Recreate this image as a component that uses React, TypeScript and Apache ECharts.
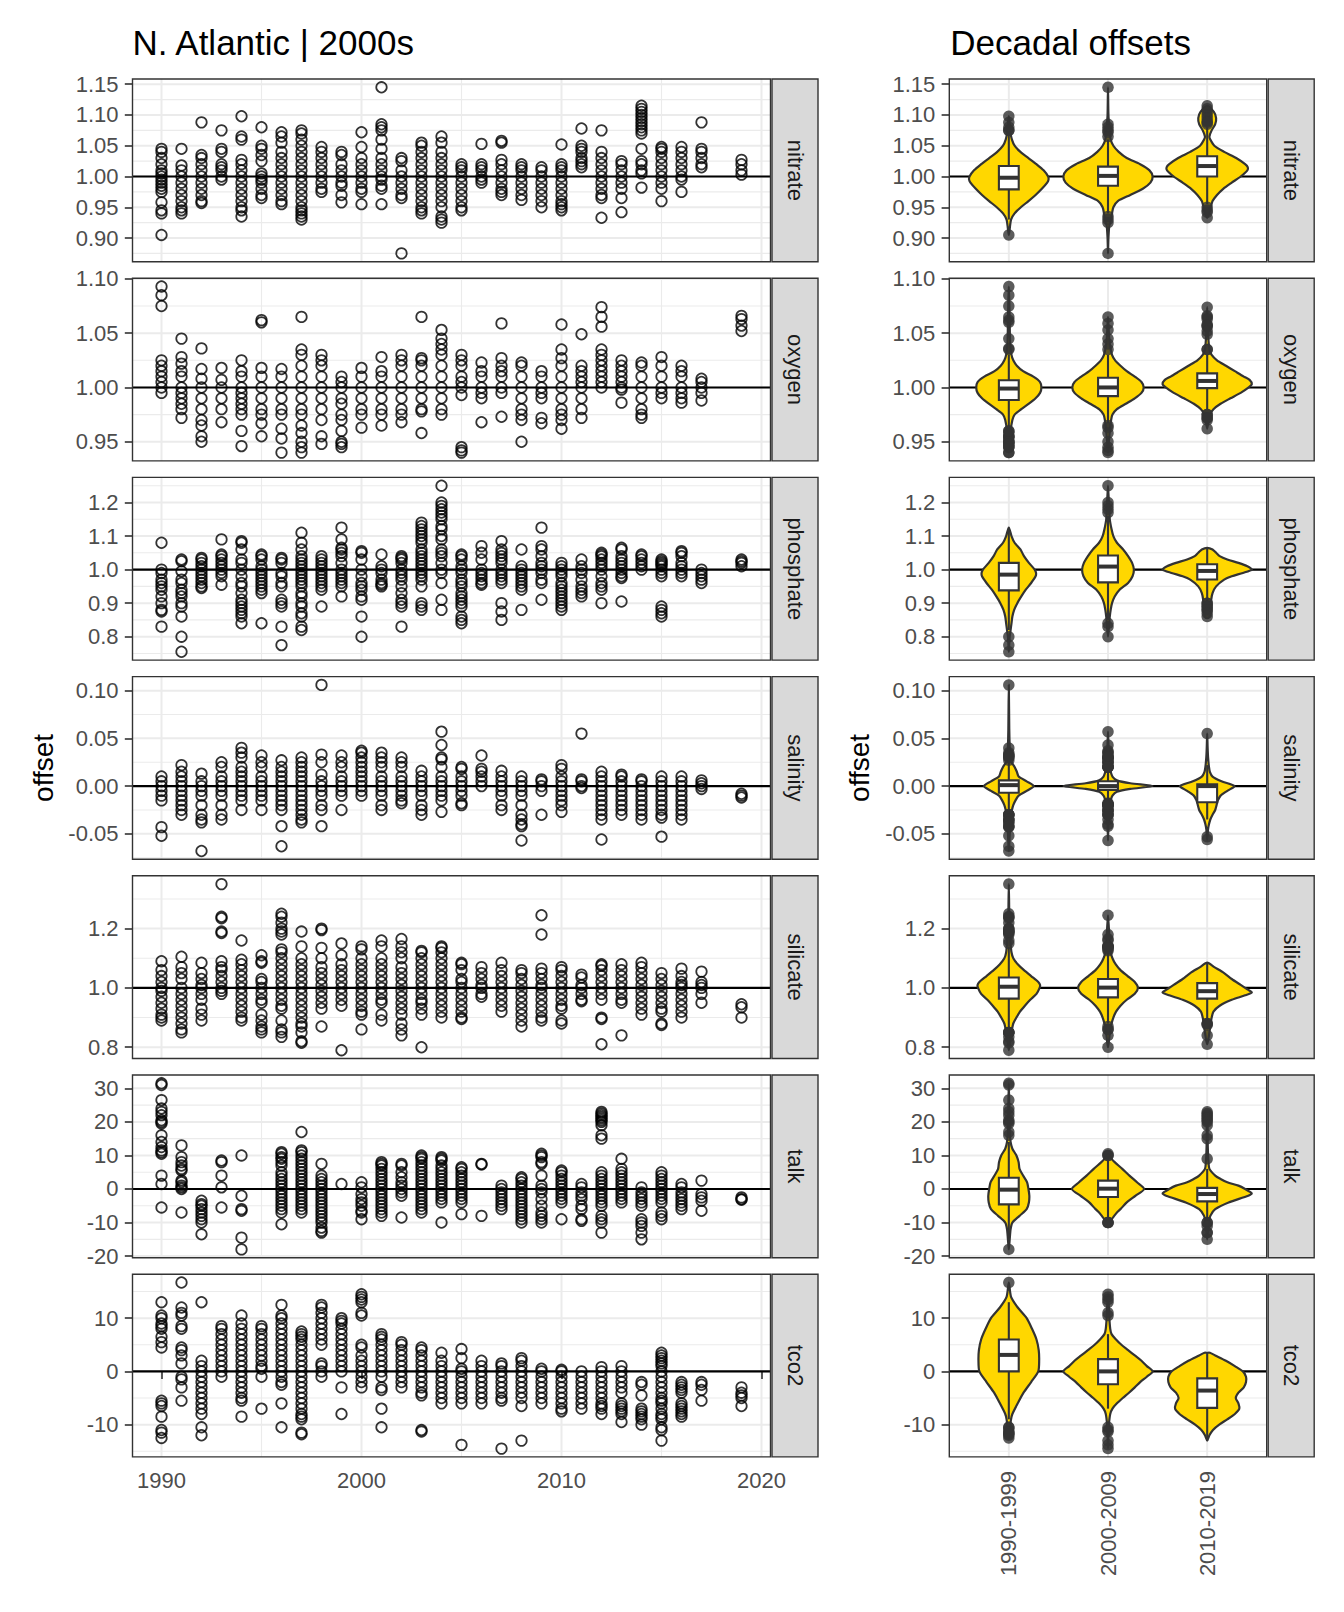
import React, { useEffect, useRef } from "react";
import * as echarts from "echarts";

// ---------------- DATA ----------------
const panelNames = ["nitrate", "oxygen", "phosphate", "salinity", "silicate", "talk", "tco2"];
const decadeLabels = ["1990-1999", "2000-2009", "2010-2019"];
const yearTicks = [1990, 2000, 2010, 2020];
const yearMinor = [1995, 2005, 2015];

const nitrateTicks = [0.9, 0.95, 1.0, 1.05, 1.1, 1.15];
const oxygenTicks = [0.95, 1.0, 1.05, 1.1];
const phosphateTicks = [0.8, 0.9, 1.0, 1.1, 1.2];
const salinityTicks = [-0.05, 0.0, 0.05, 0.1];
const silicateTicks = [0.8, 1.0, 1.2];
const talkTicks = [-20, -10, 0, 10, 20, 30];
const tco2Ticks = [-10, 0, 10];
const tickDecimals = [2, 2, 1, 2, 1, 0, 0];
const refValues = [1, 1, 1, 0, 1, 0, 0];

const nitratePoints = [
  [1990, [1.045, 1.04, 1.03, 1.02, 1.01, 1.005, 1.0, 0.995, 0.99, 0.985, 0.98, 0.975, 0.958, 0.945, 0.94, 0.905]],
  [1991, [1.045, 1.018, 1.01, 1.0, 0.99, 0.98, 0.97, 0.96, 0.95, 0.945, 0.94]],
  [1992, [1.088, 1.035, 1.03, 1.02, 1.01, 1.0, 0.99, 0.98, 0.97, 0.96, 0.957]],
  [1993, [1.075, 1.045, 1.04, 1.02, 1.015, 1.01, 1.0, 0.995]],
  [1994, [1.098, 1.065, 1.06, 1.027, 1.02, 1.01, 1.0, 0.99, 0.98, 0.97, 0.96, 0.95, 0.945, 0.935]],
  [1995, [1.08, 1.05, 1.045, 1.035, 1.025, 1.005, 1.0, 0.995, 0.99, 0.98, 0.97, 0.965]],
  [1996, [1.072, 1.065, 1.055, 1.04, 1.03, 1.02, 1.01, 1.0, 0.99, 0.98, 0.97, 0.96, 0.955]],
  [1997, [1.075, 1.07, 1.06, 1.05, 1.04, 1.03, 1.02, 1.01, 1.0, 0.99, 0.98, 0.97, 0.96, 0.95, 0.945, 0.94, 0.935, 0.93]],
  [1998, [1.048, 1.04, 1.03, 1.02, 1.01, 1.0, 0.99, 0.98, 0.975]],
  [1999, [1.04, 1.035, 1.02, 1.01, 1.0, 0.99, 0.985, 0.97, 0.958]],
  [2000, [1.072, 1.048, 1.03, 1.02, 1.01, 1.0, 0.99, 0.98, 0.975, 0.955]],
  [2001, [1.145, 1.085, 1.08, 1.075, 1.06, 1.045, 1.03, 1.02, 1.01, 1.0, 0.995, 0.985, 0.98, 0.955]],
  [2002, [1.03, 1.025, 1.01, 1.0, 0.99, 0.98, 0.97, 0.965, 0.875]],
  [2003, [1.055, 1.05, 1.04, 1.03, 1.02, 1.01, 1.0, 0.99, 0.98, 0.97, 0.96, 0.95, 0.945, 0.94]],
  [2004, [1.065, 1.055, 1.04, 1.03, 1.02, 1.01, 1.0, 0.99, 0.98, 0.97, 0.96, 0.95, 0.935, 0.93, 0.925]],
  [2005, [1.02, 1.015, 1.01, 1.0, 0.99, 0.98, 0.97, 0.96, 0.95, 0.945]],
  [2006, [1.053, 1.02, 1.015, 1.01, 1.0, 0.995, 0.99]],
  [2007, [1.058, 1.055, 1.027, 1.02, 1.01, 1.0, 0.99, 0.98, 0.975, 0.97]],
  [2008, [1.02, 1.015, 1.01, 1.0, 0.99, 0.98, 0.97, 0.962]],
  [2009, [1.015, 1.01, 1.0, 0.99, 0.98, 0.97, 0.96, 0.95]],
  [2010, [1.052, 1.02, 1.015, 1.01, 1.0, 0.99, 0.98, 0.97, 0.96, 0.955, 0.95, 0.945]],
  [2011, [1.078, 1.05, 1.045, 1.04, 1.03, 1.025, 1.02, 1.015]],
  [2012, [1.075, 1.04, 1.03, 1.02, 1.01, 1.0, 0.99, 0.98, 0.97, 0.965, 0.933]],
  [2013, [1.025, 1.02, 1.01, 1.0, 0.99, 0.98, 0.965, 0.942]],
  [2014, [1.115, 1.11, 1.105, 1.1, 1.095, 1.09, 1.085, 1.08, 1.075, 1.07, 1.045, 1.025, 1.02, 1.01, 1.005, 0.982]],
  [2015, [1.048, 1.045, 1.04, 1.03, 1.02, 1.01, 1.0, 0.99, 0.98, 0.96]],
  [2016, [1.048, 1.04, 1.03, 1.02, 1.01, 1.0, 0.995, 0.975]],
  [2017, [1.088, 1.045, 1.04, 1.03, 1.02, 1.015]],
  [2019, [1.027, 1.02, 1.01, 1.003]],
];

const oxygenPoints = [
  [1990, [1.093, 1.085, 1.075, 1.025, 1.02, 1.015, 1.01, 1.005, 1.0, 0.995]],
  [1991, [1.045, 1.028, 1.022, 1.015, 1.01, 1.0, 0.995, 0.99, 0.985, 0.98, 0.972]],
  [1992, [1.036, 1.017, 1.008, 1.0, 0.99, 0.98, 0.97, 0.965, 0.955, 0.95]],
  [1993, [1.018, 1.007, 1.0, 0.99, 0.98, 0.968]],
  [1994, [1.025, 1.015, 1.01, 1.0, 0.995, 0.99, 0.985, 0.98, 0.975, 0.96, 0.946]],
  [1995, [1.062, 1.06, 1.018, 1.01, 1.0, 0.99, 0.98, 0.975, 0.967, 0.955]],
  [1996, [1.017, 1.01, 1.0, 0.99, 0.98, 0.975, 0.962, 0.953, 0.94]],
  [1997, [1.065, 1.035, 1.03, 1.02, 1.01, 1.0, 0.99, 0.98, 0.975, 0.965, 0.958, 0.95, 0.945, 0.94]],
  [1998, [1.03, 1.025, 1.02, 1.01, 1.0, 0.99, 0.98, 0.97, 0.955, 0.948]],
  [1999, [1.01, 1.005, 1.0, 0.99, 0.985, 0.975, 0.97, 0.96, 0.95, 0.948, 0.945]],
  [2000, [1.018, 1.01, 1.0, 0.99, 0.98, 0.975, 0.963]],
  [2001, [1.028, 1.015, 1.01, 1.0, 0.99, 0.98, 0.975, 0.965]],
  [2002, [1.03, 1.025, 1.02, 1.01, 1.0, 0.99, 0.98, 0.975, 0.968]],
  [2003, [1.065, 1.027, 1.025, 1.02, 1.01, 1.0, 0.99, 0.98, 0.978, 0.958]],
  [2004, [1.053, 1.045, 1.04, 1.035, 1.03, 1.02, 1.01, 1.0, 0.99, 0.98, 0.975]],
  [2005, [1.03, 1.025, 1.02, 1.01, 1.005, 1.0, 0.993, 0.945, 0.942, 0.94]],
  [2006, [1.023, 1.015, 1.01, 1.0, 0.995, 0.99, 0.968]],
  [2007, [1.059, 1.027, 1.02, 1.015, 1.01, 1.0, 0.995, 0.973]],
  [2008, [1.023, 1.02, 1.01, 1.0, 0.99, 0.98, 0.975, 0.97, 0.95]],
  [2009, [1.015, 1.01, 1.0, 0.995, 0.99, 0.972, 0.967]],
  [2010, [1.058, 1.035, 1.027, 1.02, 1.01, 1.0, 0.99, 0.98, 0.975, 0.97, 0.962]],
  [2011, [1.049, 1.02, 1.015, 1.01, 1.005, 1.0, 0.99, 0.98, 0.972]],
  [2012, [1.074, 1.065, 1.056, 1.035, 1.03, 1.025, 1.02, 1.015, 1.01, 1.005, 1.0]],
  [2013, [1.025, 1.02, 1.015, 1.01, 1.005, 1.0, 0.998, 0.986]],
  [2014, [1.023, 1.02, 1.01, 1.0, 0.99, 0.98, 0.975, 0.972]],
  [2015, [1.028, 1.02, 1.01, 1.0, 0.995, 0.99]],
  [2016, [1.02, 1.015, 1.01, 1.0, 0.995, 0.99, 0.986]],
  [2017, [1.008, 1.005, 1.0, 0.995, 0.988]],
  [2019, [1.066, 1.063, 1.057, 1.052]],
];

const phosphatePoints = [
  [1990, [1.08, 1.0, 0.99, 0.97, 0.96, 0.95, 0.94, 0.92, 0.9, 0.88, 0.875, 0.83]],
  [1991, [1.03, 1.025, 0.995, 0.97, 0.96, 0.94, 0.93, 0.92, 0.9, 0.89, 0.86, 0.8, 0.755]],
  [1992, [1.035, 1.03, 1.02, 1.01, 1.0, 0.99, 0.98, 0.97, 0.96, 0.95, 0.945]],
  [1993, [1.09, 1.045, 1.04, 1.03, 1.02, 1.01, 1.0, 0.99, 0.98, 0.955]],
  [1994, [1.085, 1.08, 1.06, 1.03, 1.02, 1.0, 0.98, 0.96, 0.95, 0.93, 0.91, 0.9, 0.89, 0.88, 0.87, 0.86, 0.84]],
  [1995, [1.045, 1.04, 1.03, 1.01, 1.0, 0.99, 0.98, 0.97, 0.96, 0.95, 0.94, 0.93, 0.84]],
  [1996, [1.035, 1.03, 1.02, 0.99, 0.98, 0.96, 0.95, 0.91, 0.9, 0.89, 0.83, 0.775]],
  [1997, [1.11, 1.08, 1.06, 1.04, 1.03, 1.02, 1.01, 1.0, 0.99, 0.98, 0.97, 0.96, 0.95, 0.93, 0.92, 0.9, 0.89, 0.87, 0.86, 0.83, 0.82]],
  [1998, [1.04, 1.03, 1.02, 1.01, 1.0, 0.99, 0.98, 0.97, 0.96, 0.95, 0.94, 0.89]],
  [1999, [1.125, 1.09, 1.065, 1.06, 1.05, 1.04, 1.02, 1.0, 0.99, 0.98, 0.97, 0.96, 0.95, 0.92]],
  [2000, [1.055, 1.05, 1.03, 1.0, 0.98, 0.96, 0.95, 0.94, 0.92, 0.91, 0.86, 0.8]],
  [2001, [1.045, 1.01, 1.0, 0.99, 0.97, 0.96, 0.955, 0.95]],
  [2002, [1.04, 1.035, 1.03, 1.02, 1.0, 0.99, 0.98, 0.97, 0.95, 0.93, 0.91, 0.9, 0.89, 0.83]],
  [2003, [1.14, 1.13, 1.12, 1.11, 1.1, 1.09, 1.08, 1.06, 1.05, 1.04, 1.03, 1.02, 1.01, 1.0, 0.99, 0.98, 0.97, 0.95, 0.9, 0.89, 0.88]],
  [2004, [1.25, 1.2, 1.19, 1.18, 1.17, 1.16, 1.15, 1.13, 1.12, 1.1, 1.09, 1.06, 1.05, 1.04, 1.02, 1.0, 0.99, 0.96, 0.91, 0.88]],
  [2005, [1.045, 1.04, 1.03, 1.01, 1.0, 0.99, 0.97, 0.96, 0.95, 0.93, 0.92, 0.91, 0.9, 0.89, 0.86, 0.85, 0.84]],
  [2006, [1.07, 1.05, 1.03, 1.0, 0.99, 0.98, 0.97, 0.96, 0.955]],
  [2007, [1.085, 1.06, 1.05, 1.04, 1.03, 1.02, 1.0, 0.99, 0.98, 0.97, 0.96, 0.9, 0.875, 0.85]],
  [2008, [1.06, 1.01, 1.0, 0.99, 0.98, 0.97, 0.96, 0.95, 0.94, 0.88]],
  [2009, [1.125, 1.07, 1.06, 1.04, 1.02, 1.01, 1.0, 0.99, 0.97, 0.96, 0.91]],
  [2010, [1.02, 1.01, 1.0, 0.99, 0.98, 0.96, 0.95, 0.94, 0.93, 0.92, 0.91, 0.9, 0.89, 0.88]],
  [2011, [1.03, 1.01, 1.0, 0.99, 0.97, 0.95, 0.94, 0.93, 0.92]],
  [2012, [1.05, 1.045, 1.04, 1.03, 1.02, 1.01, 1.0, 0.98, 0.96, 0.95, 0.94, 0.9]],
  [2013, [1.065, 1.06, 1.04, 1.03, 1.02, 1.01, 1.0, 0.99, 0.98, 0.975, 0.905]],
  [2014, [1.045, 1.04, 1.03, 1.02, 1.01, 1.0]],
  [2015, [1.03, 1.025, 1.02, 1.015, 1.01, 1.0, 0.99, 0.98, 0.89, 0.88, 0.87, 0.86]],
  [2016, [1.055, 1.05, 1.04, 1.02, 1.01, 1.0, 0.99, 0.98]],
  [2017, [1.0, 0.99, 0.98, 0.97, 0.96]],
  [2019, [1.03, 1.025, 1.02, 1.01]],
];

const salinityPoints = [
  [1990, [0.01, 0.005, 0.0, -0.005, -0.01, -0.015, -0.043, -0.052]],
  [1991, [0.022, 0.015, 0.01, 0.005, 0.0, -0.005, -0.01, -0.015, -0.02, -0.025, -0.03]],
  [1992, [0.013, 0.005, 0.0, -0.005, -0.01, -0.02, -0.03, -0.035, -0.038, -0.068]],
  [1993, [0.025, 0.02, 0.01, 0.005, 0.0, -0.005, -0.01, -0.02, -0.03, -0.035]],
  [1994, [0.04, 0.035, 0.03, 0.02, 0.015, 0.01, 0.005, 0.0, -0.005, -0.01, -0.015, -0.025]],
  [1995, [0.032, 0.025, 0.02, 0.01, 0.005, 0.0, -0.005, -0.01, -0.015, -0.025]],
  [1996, [0.027, 0.02, 0.015, 0.01, 0.005, 0.0, -0.005, -0.01, -0.015, -0.02, -0.025, -0.042, -0.063]],
  [1997, [0.03, 0.025, 0.02, 0.015, 0.01, 0.005, 0.0, -0.005, -0.01, -0.015, -0.02, -0.025, -0.03, -0.035, -0.038]],
  [1998, [0.106, 0.033, 0.025, 0.012, 0.005, 0.0, -0.005, -0.01, -0.02, -0.025, -0.042]],
  [1999, [0.032, 0.025, 0.02, 0.01, 0.005, 0.0, -0.005, -0.01, -0.025]],
  [2000, [0.037, 0.035, 0.03, 0.025, 0.02, 0.015, 0.01, 0.005, 0.0, -0.005, -0.01]],
  [2001, [0.035, 0.03, 0.025, 0.02, 0.01, 0.005, 0.0, -0.005, -0.01, -0.02, -0.025]],
  [2002, [0.03, 0.025, 0.02, 0.01, 0.005, 0.0, -0.005, -0.01, -0.015, -0.018]],
  [2003, [0.016, 0.01, 0.005, 0.0, -0.005, -0.01, -0.02, -0.025, -0.03]],
  [2004, [0.057, 0.043, 0.03, 0.028, 0.02, 0.01, 0.005, 0.0, -0.005, -0.01, -0.015, -0.027]],
  [2005, [0.02, 0.018, 0.01, 0.005, 0.0, -0.005, -0.01, -0.018, -0.02]],
  [2006, [0.032, 0.018, 0.015, 0.01, 0.005, 0.0]],
  [2007, [0.016, 0.01, 0.005, 0.0, -0.005, -0.01, -0.02, -0.025]],
  [2008, [0.01, 0.005, 0.0, -0.005, -0.01, -0.02, -0.03, -0.035, -0.04, -0.042, -0.057]],
  [2009, [0.007, 0.005, 0.0, -0.005, -0.03]],
  [2010, [0.022, 0.018, 0.01, 0.005, 0.0, -0.005, -0.01, -0.015, -0.02, -0.027]],
  [2011, [0.055, 0.007, 0.005, 0.0, -0.002]],
  [2012, [0.015, 0.01, 0.005, 0.0, -0.005, -0.01, -0.015, -0.02, -0.025, -0.03, -0.035, -0.056]],
  [2013, [0.012, 0.01, 0.005, 0.0, -0.005, -0.01, -0.015, -0.02, -0.025, -0.03]],
  [2014, [0.007, 0.005, 0.0, -0.005, -0.01, -0.015, -0.02, -0.025, -0.03, -0.035]],
  [2015, [0.01, 0.005, 0.0, -0.005, -0.01, -0.015, -0.02, -0.025, -0.03, -0.033, -0.053]],
  [2016, [0.01, 0.005, 0.0, -0.005, -0.01, -0.015, -0.02, -0.025, -0.03, -0.035]],
  [2017, [0.006, 0.003, 0.0, -0.003]],
  [2019, [-0.008, -0.01, -0.012]],
];

const silicatePoints = [
  [1990, [1.09, 1.06, 1.04, 1.02, 1.0, 0.99, 0.97, 0.95, 0.93, 0.91, 0.9, 0.89]],
  [1991, [1.105, 1.07, 1.05, 1.03, 1.0, 0.98, 0.96, 0.94, 0.92, 0.9, 0.88, 0.86, 0.85]],
  [1992, [1.085, 1.05, 1.03, 1.01, 1.0, 0.98, 0.96, 0.93, 0.91, 0.89]],
  [1993, [1.35, 1.24, 1.235, 1.19, 1.185, 1.09, 1.07, 1.06, 1.04, 1.02, 1.0, 0.99, 0.98]],
  [1994, [1.16, 1.095, 1.08, 1.06, 1.04, 1.02, 1.0, 0.98, 0.96, 0.94, 0.92, 0.9, 0.89]],
  [1995, [1.11, 1.09, 1.085, 1.03, 1.02, 1.0, 0.98, 0.96, 0.95, 0.91, 0.89, 0.87, 0.86, 0.85]],
  [1996, [1.25, 1.24, 1.22, 1.2, 1.19, 1.18, 1.13, 1.12, 1.1, 1.08, 1.06, 1.04, 1.02, 1.0, 0.98, 0.96, 0.94, 0.93, 0.89, 0.86, 0.85, 0.835]],
  [1997, [1.19, 1.14, 1.1, 1.08, 1.06, 1.04, 1.02, 1.0, 0.98, 0.96, 0.94, 0.92, 0.9, 0.88, 0.87, 0.85, 0.82, 0.815]],
  [1998, [1.2, 1.195, 1.135, 1.1, 1.07, 1.05, 1.03, 1.01, 0.99, 0.97, 0.95, 0.93, 0.87]],
  [1999, [1.15, 1.11, 1.08, 1.06, 1.04, 1.02, 1.0, 0.98, 0.96, 0.94, 0.79]],
  [2000, [1.14, 1.13, 1.1, 1.08, 1.06, 1.04, 1.02, 1.0, 0.98, 0.96, 0.94, 0.92, 0.91, 0.86]],
  [2001, [1.16, 1.14, 1.1, 1.08, 1.06, 1.04, 1.02, 1.0, 0.98, 0.96, 0.95, 0.91, 0.89]],
  [2002, [1.165, 1.14, 1.12, 1.1, 1.07, 1.05, 1.03, 1.01, 0.99, 0.97, 0.95, 0.93, 0.91, 0.88, 0.86, 0.84]],
  [2003, [1.125, 1.12, 1.1, 1.08, 1.06, 1.04, 1.02, 1.0, 0.98, 0.96, 0.95, 0.93, 0.91, 0.8]],
  [2004, [1.14, 1.135, 1.12, 1.1, 1.08, 1.06, 1.04, 1.02, 1.0, 0.98, 0.96, 0.94, 0.92, 0.9]],
  [2005, [1.085, 1.08, 1.06, 1.03, 1.02, 1.0, 0.98, 0.96, 0.94, 0.92, 0.9, 0.895]],
  [2006, [1.07, 1.05, 1.03, 1.01, 1.0, 0.98, 0.97]],
  [2007, [1.085, 1.06, 1.04, 1.02, 1.0, 0.98, 0.96, 0.94, 0.92]],
  [2008, [1.06, 1.05, 1.03, 1.01, 0.99, 0.97, 0.95, 0.93, 0.91, 0.89, 0.87]],
  [2009, [1.245, 1.18, 1.065, 1.05, 1.03, 1.01, 1.0, 0.98, 0.96, 0.94, 0.92, 0.9, 0.89]],
  [2010, [1.07, 1.06, 1.04, 1.02, 1.0, 0.98, 0.96, 0.94, 0.93, 0.89, 0.88]],
  [2011, [1.045, 1.035, 1.01, 1.0, 0.98, 0.96, 0.955]],
  [2012, [1.08, 1.075, 1.06, 1.04, 1.02, 1.0, 0.98, 0.96, 0.9, 0.895, 0.81]],
  [2013, [1.08, 1.06, 1.04, 1.02, 1.0, 0.98, 0.96, 0.95, 0.84]],
  [2014, [1.085, 1.07, 1.05, 1.03, 1.01, 0.99, 0.97, 0.95, 0.93, 0.91]],
  [2015, [1.05, 1.03, 1.01, 0.99, 0.97, 0.95, 0.93, 0.92, 0.88, 0.875]],
  [2016, [1.065, 1.04, 1.02, 1.01, 1.0, 0.98, 0.96, 0.94, 0.92, 0.9]],
  [2017, [1.055, 1.02, 1.01, 1.0, 0.98, 0.95]],
  [2019, [0.945, 0.935, 0.9]],
];

const talkPoints = [
  [1990, [31.5, 31, 26.5, 24, 23, 22, 20.5, 20, 19.5, 16, 14, 12.5, 11.5, 11, 10.5, 4, 1.5, -5.5]],
  [1991, [13, 9.5, 8, 7, 6, 5.5, 2.5, 2, 1, 0.5, 0, -7]],
  [1992, [-3.5, -4.5, -5, -6, -7, -8, -9, -10, -13.5]],
  [1993, [8.5, 8, 4, 0.5, -5.5]],
  [1994, [10, -2, -6, -6.5, -14.5, -18]],
  [1996, [11, 10.5, 9.5, 9, 8, 7, 5, 4, 3, 2, 1, 0, -1, -2, -3, -4, -5, -6, -7, -10.5]],
  [1997, [17, 11.5, 11, 10, 9, 8, 7, 6, 5, 4, 3, 2, 1, 0, -1, -2, -3, -4, -5, -6, -7]],
  [1998, [7.5, 4, 3, 2, 1, 0, -1, -2, -3, -4, -5, -6, -7, -8, -9, -10, -11.5, -12.5, -13]],
  [1999, [1.5]],
  [2000, [2, 0.5, -1.5, -3, -4, -5, -6.5, -7, -9]],
  [2001, [8, 7.5, 7, 6, 5, 4, 3, 2, 1, 0, -1, -2, -3, -4, -5, -6, -7, -8]],
  [2002, [7.5, 7, 5, 3.5, 2, 1, 0, -1, -2, -8.5]],
  [2003, [10, 9.5, 9, 8, 7, 6, 5, 4, 3, 2, 1, 0, -1, -2, -3, -4, -5, -6, -7]],
  [2004, [9.5, 9, 8.5, 7, 6, 5, 4, 3, 2, 1, 0, -1, -2, -3, -4, -10]],
  [2005, [6.5, 6, 5, 4, 3, 2, 1, 0, -1, -2, -3, -4, -7.5]],
  [2006, [7.5, 7.3, -8]],
  [2007, [1, 0, -1, -2, -3, -4, -5, -6]],
  [2008, [3.5, 3, 2, 1, 0, -1, -2, -3, -4, -5, -6, -7, -8, -9, -10]],
  [2009, [10.5, 10, 9.5, 8, 7.5, 4, 1, 0, -1, -3, -5, -7, -8, -9, -10]],
  [2010, [5.5, 5, 4, 3, 2, 1, 0, -1, -2, -3, -4, -9]],
  [2011, [1.5, 0.5, -1, -2, -3, -5, -6, -9, -9.5]],
  [2012, [23, 22.5, 22, 21.5, 21, 20.5, 20, 19, 16, 15, 5, 4, 3, 2, 1, 0, -1, -2, -3, -4, -5, -8, -9, -10, -13]],
  [2013, [9, 6, 5, 4, 3, 2, 1, 0, -1, -2, -3, -4]],
  [2014, [0.5, -1, -2, -3, -4, -5, -9, -10, -11, -13, -15]],
  [2015, [5, 4, 3, 2, 1, 0, -1, -2, -3, -4, -7, -8, -9]],
  [2016, [1.5, 0.5, -1, -2, -3, -4, -5, -6]],
  [2017, [2.5, -1.5, -2.5, -3.5, -6.5]],
  [2019, [-2.5, -3, -3.2]],
];

const tco2Points = [
  [1990, [13, 10.5, 10, 9, 8.5, 8, 6.5, 5.5, 4.5, -5.5, -6, -6.5, -8.5, -11, -11.5, -12.5]],
  [1991, [16.7, 12, 11, 10.5, 8.5, 8, 4.5, 4, 3, 1.5, -1, -1.5, -3, -5.5]],
  [1992, [13, 2, 1, 0, -1, -2, -3, -4, -5, -6, -7, -8, -10.5, -12]],
  [1993, [8.5, 8, 7, 6, 5, 4, 3, 2, 1, 0, -1]],
  [1994, [10.5, 9, 8, 7, 6, 5, 4, 3, 2, 1, 0, -1, -2, -3, -4, -5, -5.5, -8.5]],
  [1995, [8.5, 8, 7, 6, 5, 4, 3, 2, 1, 0.5, -1, -7]],
  [1996, [12.5, 10.5, 10, 9, 8, 7, 6, 5, 4, 3, 2, 1, 0, -1, -2, -2.5, -6, -10.5]],
  [1997, [7.5, 7, 6.5, 6, 5, 4, 3, 2, 1, 0, -1, -2, -3, -4, -5, -6, -7, -8, -8.5, -9, -11.5, -11.8]],
  [1998, [12.5, 12, 11, 10, 9, 8, 7, 6, 5, 1.5, 1, 0, -1]],
  [1999, [10, 9.5, 9, 8, 7, 6, 5, 4, 3, 2, 1, 0, -3, -8]],
  [2000, [14.5, 14, 13.5, 13, 11, 10.5, 5, 4.5, 3, 2, 1, 0, -1, -2, -3]],
  [2001, [7, 6.5, 6, 5, 4, 3, 2, 1, 0, -1, -3, -3.5, -7, -10.5]],
  [2002, [5.5, 5, 4, 3, 2, 1, 0, -1, -2, -3]],
  [2003, [4.5, 4, 3, 2, 1, 0, -1, -2, -3, -4, -4.5, -11, -11.3]],
  [2004, [3.5, 2, 1, 0, -1, -2, -3, -4, -5, -6]],
  [2005, [4.2, 2.5, 0.5, 0, -1, -2, -3, -4, -5, -6, -13.8]],
  [2006, [2, 1, 0, -1, -2, -3, -4, -5, -6]],
  [2007, [1.5, 1, 0, -1, -2, -3, -4, -5, -5.5, -14.5]],
  [2008, [2.5, 2, 1, 0, -1, -2, -3, -4, -5, -6.5, -13]],
  [2009, [0.5, 0, -1, -2, -3, -4, -5, -6]],
  [2010, [0.3, 0, -1, -2, -3, -4, -5, -6, -7, -7.5]],
  [2011, [0, -1, -2, -3, -4, -5, -6, -7]],
  [2012, [0.8, 0, -1, -2, -3, -4, -5, -6, -6.5, -7, -8]],
  [2013, [1, 0, -1, -2, -3, -4, -6, -6.5, -7, -7.5, -8, -9.5]],
  [2014, [-2, -2.5, -4.5, -7, -7.5, -8, -8.5, -9, -10]],
  [2015, [3.5, 3, 2.5, 2, 1.5, 1, 0, -1, -2, -3, -4, -5, -5.5, -6, -7, -8, -8.5, -9, -10.5, -11, -13]],
  [2016, [-2, -2.5, -3, -3.5, -4, -6, -6.5, -7, -7.5, -8, -8.5]],
  [2017, [-2, -2.5, -3.5, -5.5]],
  [2019, [-3, -4, -4.5, -5, -6.5]],
];

// violin half-width profiles per decade: [value, relative half width]
const nitrateViolins = [
  [[0.905, 0], [0.915, 0.02], [0.93, 0.05], [0.94, 0.13], [0.95, 0.27], [0.96, 0.44], [0.97, 0.6], [0.98, 0.74], [0.99, 0.86], [0.995, 0.89], [1.0, 0.88], [1.01, 0.78], [1.02, 0.62], [1.03, 0.44], [1.04, 0.26], [1.05, 0.13], [1.06, 0.07], [1.07, 0.04], [1.085, 0.02], [1.098, 0]],
  [[0.875, 0], [0.9, 0.01], [0.92, 0.03], [0.93, 0.07], [0.94, 0.09], [0.95, 0.12], [0.96, 0.22], [0.97, 0.5], [0.98, 0.78], [0.99, 0.95], [1.0, 1.0], [1.01, 0.93], [1.02, 0.72], [1.03, 0.42], [1.04, 0.24], [1.05, 0.12], [1.06, 0.06], [1.08, 0.03], [1.1, 0.01], [1.145, 0]],
  [[0.933, 0], [0.94, 0.04], [0.95, 0.08], [0.96, 0.12], [0.97, 0.22], [0.98, 0.36], [0.99, 0.55], [1.0, 0.75], [1.01, 0.9], [1.015, 0.91], [1.02, 0.85], [1.03, 0.65], [1.04, 0.38], [1.05, 0.16], [1.06, 0.07], [1.065, 0.05], [1.075, 0.1], [1.085, 0.18], [1.095, 0.2], [1.105, 0.15], [1.115, 0]],
];
const oxygenViolins = [
  [[0.94, 0], [0.95, 0.02], [0.96, 0.04], [0.97, 0.08], [0.975, 0.13], [0.98, 0.28], [0.985, 0.45], [0.99, 0.6], [0.995, 0.7], [1.0, 0.73], [1.005, 0.7], [1.01, 0.55], [1.015, 0.32], [1.02, 0.18], [1.025, 0.1], [1.03, 0.06], [1.04, 0.03], [1.06, 0.02], [1.08, 0.01], [1.093, 0]],
  [[0.94, 0], [0.95, 0.02], [0.96, 0.04], [0.97, 0.07], [0.975, 0.1], [0.98, 0.2], [0.985, 0.4], [0.99, 0.6], [0.995, 0.75], [1.0, 0.8], [1.005, 0.75], [1.01, 0.6], [1.015, 0.42], [1.02, 0.28], [1.025, 0.16], [1.03, 0.09], [1.04, 0.04], [1.05, 0.02], [1.065, 0]],
  [[0.962, 0], [0.97, 0.03], [0.975, 0.06], [0.98, 0.14], [0.985, 0.3], [0.99, 0.52], [0.995, 0.75], [1.0, 0.93], [1.003, 1.0], [1.007, 0.95], [1.01, 0.82], [1.015, 0.62], [1.02, 0.42], [1.025, 0.22], [1.03, 0.1], [1.035, 0.05], [1.05, 0.02], [1.074, 0]],
];
const phosphateViolins = [
  [[0.755, 0], [0.78, 0.01], [0.8, 0.02], [0.82, 0.04], [0.84, 0.06], [0.86, 0.08], [0.88, 0.12], [0.9, 0.19], [0.92, 0.28], [0.94, 0.38], [0.96, 0.5], [0.98, 0.6], [0.99, 0.61], [1.0, 0.58], [1.02, 0.45], [1.04, 0.34], [1.06, 0.26], [1.08, 0.13], [1.1, 0.06], [1.125, 0]],
  [[0.8, 0], [0.83, 0.02], [0.86, 0.04], [0.88, 0.06], [0.9, 0.09], [0.92, 0.15], [0.94, 0.26], [0.96, 0.45], [0.98, 0.55], [1.0, 0.58], [1.02, 0.54], [1.04, 0.45], [1.06, 0.34], [1.08, 0.2], [1.1, 0.12], [1.12, 0.08], [1.15, 0.04], [1.2, 0.02], [1.25, 0]],
  [[0.855, 0], [0.86, 0.05], [0.87, 0.07], [0.89, 0.08], [0.91, 0.09], [0.93, 0.12], [0.95, 0.2], [0.97, 0.38], [0.98, 0.55], [0.99, 0.8], [1.0, 1.0], [1.01, 0.9], [1.02, 0.7], [1.03, 0.45], [1.04, 0.28], [1.05, 0.2], [1.06, 0.12], [1.065, 0]],
];
const salinityViolins = [
  [[-0.068, 0], [-0.06, 0.01], [-0.05, 0.02], [-0.04, 0.03], [-0.03, 0.05], [-0.025, 0.07], [-0.02, 0.1], [-0.015, 0.15], [-0.01, 0.22], [-0.005, 0.4], [0.0, 0.56], [0.005, 0.4], [0.01, 0.22], [0.015, 0.18], [0.02, 0.13], [0.025, 0.06], [0.03, 0.03], [0.04, 0.02], [0.06, 0.01], [0.106, 0]],
  [[-0.057, 0], [-0.04, 0.01], [-0.03, 0.02], [-0.02, 0.04], [-0.015, 0.06], [-0.01, 0.1], [-0.006, 0.2], [-0.003, 0.5], [0.0, 1.0], [0.003, 0.5], [0.006, 0.2], [0.01, 0.1], [0.015, 0.06], [0.02, 0.04], [0.03, 0.02], [0.045, 0.01], [0.057, 0]],
  [[-0.056, 0], [-0.045, 0.02], [-0.04, 0.04], [-0.035, 0.07], [-0.03, 0.12], [-0.025, 0.18], [-0.02, 0.21], [-0.015, 0.24], [-0.01, 0.3], [-0.005, 0.45], [0.0, 0.61], [0.005, 0.32], [0.01, 0.12], [0.015, 0.06], [0.02, 0.04], [0.03, 0.02], [0.04, 0.01], [0.055, 0]],
];
const silicateViolins = [
  [[0.79, 0], [0.81, 0.02], [0.84, 0.04], [0.86, 0.07], [0.88, 0.1], [0.9, 0.17], [0.92, 0.25], [0.94, 0.36], [0.96, 0.48], [0.98, 0.62], [1.0, 0.69], [1.01, 0.7], [1.02, 0.66], [1.04, 0.5], [1.06, 0.34], [1.08, 0.2], [1.1, 0.1], [1.12, 0.06], [1.15, 0.04], [1.2, 0.02], [1.25, 0.01], [1.35, 0]],
  [[0.8, 0], [0.82, 0.02], [0.86, 0.05], [0.88, 0.08], [0.9, 0.12], [0.92, 0.18], [0.94, 0.28], [0.96, 0.42], [0.98, 0.6], [1.0, 0.67], [1.02, 0.6], [1.04, 0.44], [1.06, 0.28], [1.08, 0.17], [1.1, 0.1], [1.12, 0.06], [1.15, 0.04], [1.2, 0.02], [1.245, 0]],
  [[0.81, 0], [0.83, 0.03], [0.86, 0.06], [0.88, 0.08], [0.9, 0.1], [0.92, 0.14], [0.94, 0.28], [0.96, 0.55], [0.975, 0.85], [0.985, 1.0], [0.995, 0.9], [1.01, 0.75], [1.03, 0.55], [1.05, 0.38], [1.07, 0.16], [1.085, 0]],
];
const talkViolins = [
  [[-18, 0], [-15, 0.02], [-12, 0.04], [-10, 0.08], [-8, 0.24], [-6, 0.4], [-4, 0.45], [-2, 0.46], [0, 0.44], [2, 0.41], [4, 0.32], [6, 0.24], [8, 0.22], [10, 0.17], [12, 0.08], [14, 0.04], [17, 0.02], [20, 0.015], [25, 0.01], [31.5, 0]],
  [[-10, 0], [-9, 0.08], [-8, 0.14], [-7, 0.2], [-6, 0.28], [-4, 0.42], [-2, 0.62], [0, 0.81], [2, 0.65], [4, 0.48], [6, 0.32], [8, 0.15], [9, 0.08], [10, 0.04], [10.5, 0]],
  [[-15, 0], [-12, 0.02], [-10, 0.04], [-8, 0.07], [-6, 0.18], [-4, 0.48], [-2, 0.92], [-1.3, 1.0], [0, 0.85], [1, 0.7], [2, 0.45], [3, 0.3], [4, 0.18], [6, 0.05], [8, 0.03], [10, 0.02], [15, 0.01], [20, 0.01], [23, 0]],
];
const tco2Violins = [
  [[-12.5, 0], [-11, 0.02], [-9, 0.05], [-8, 0.08], [-6, 0.2], [-4, 0.33], [-2, 0.5], [0, 0.66], [2, 0.68], [4, 0.67], [6, 0.62], [8, 0.52], [10, 0.4], [12, 0.2], [14, 0.05], [16.7, 0]],
  [[-14.5, 0], [-12, 0.01], [-10, 0.02], [-8, 0.05], [-7, 0.1], [-6, 0.2], [-5, 0.33], [-4, 0.47], [-3, 0.6], [-2, 0.72], [-1, 0.87], [0, 1.0], [1, 0.87], [2, 0.75], [3, 0.6], [4, 0.45], [5, 0.3], [6, 0.18], [7, 0.08], [8, 0.05], [10, 0.03], [12, 0.02], [14.5, 0]],
  [[-13, 0], [-12, 0.05], [-11, 0.13], [-10, 0.27], [-9, 0.45], [-8, 0.62], [-7, 0.72], [-6, 0.7], [-5, 0.64], [-4, 0.7], [-3, 0.82], [-2, 0.87], [-1, 0.87], [0, 0.8], [1, 0.62], [2, 0.42], [3, 0.18], [3.5, 0.06], [3.5, 0]],
];

// box stats per decade: [q1, median, q3]
const nitrateBoxes = [[0.979, 0.998, 1.017], [0.985, 1.001, 1.016], [1.0, 1.017, 1.033]];
const oxygenBoxes = [[0.9885, 0.999, 1.0067], [0.992, 1.0, 1.009], [0.9994, 1.006, 1.013]];
const phosphateBoxes = [[0.938, 0.985, 1.02], [0.962, 1.009, 1.042], [0.9705, 0.996, 1.016]];
const salinityBoxes = [[-0.007, 0.001, 0.006], [-0.004, 0.0, 0.005], [-0.017, 0.0, 0.002]];
const silicateBoxes = [[0.964, 1.004, 1.035], [0.968, 1.001, 1.03], [0.964, 0.989, 1.016]];
const talkBoxes = [[-4.57, -0.2, 3.37], [-2.4, 0.1, 2.5], [-3.7, -1.5, 0.33]];
const tco2Boxes = [[0.0, 3.1, 6.0], [-2.4, 0.0, 2.3], [-6.85, -3.6, -1.3]];

const panelPoints = [nitratePoints, oxygenPoints, phosphatePoints, salinityPoints, silicatePoints, talkPoints, tco2Points];
const panelTicks = [nitrateTicks, oxygenTicks, phosphateTicks, salinityTicks, silicateTicks, talkTicks, tco2Ticks];
const panelViolins = [nitrateViolins, oxygenViolins, phosphateViolins, salinityViolins, silicateViolins, talkViolins, tco2Violins];
const panelBoxes = [nitrateBoxes, oxygenBoxes, phosphateBoxes, salinityBoxes, silicateBoxes, talkBoxes, tco2Boxes];

// ---------------- LAYOUT / STYLE ----------------
const FONT = "'Liberation Sans', Arial, Helvetica, sans-serif";
const TOP0 = 79;
const PITCH = 199.2;
const PH = 182.7;
const LX = 132.5;
const LW = 638;
const RX = 949.3;
const RW = 317.4;
const STRIP_W = 46;
const DARK = "#333333";
const GRIDC = "#EBEBEB";
const TICKC = "#4D4D4D";

function buildOption() {
  const grid: any[] = [];
  const xAxis: any[] = [];
  const yAxis: any[] = [];
  const series: any[] = [];
  const graphic: any[] = [];

  let yrMin = Infinity, yrMax = -Infinity;
  panelPoints.forEach((pts: any) => pts.forEach((d: any) => { yrMin = Math.min(yrMin, d[0]); yrMax = Math.max(yrMax, d[0]); }));
  const yrPad = (yrMax - yrMin) * 0.05;
  const xMin = yrMin - yrPad, xMax = yrMax + yrPad;

  panelNames.forEach((name, i) => {
    const top = TOP0 + i * PITCH;
    const flat: number[][] = [];
    (panelPoints[i] as any).forEach(([yr, vals]: any) => vals.forEach((v: number) => flat.push([yr, v])));
    let vmin = Infinity, vmax = -Infinity;
    flat.forEach((d) => { vmin = Math.min(vmin, d[1]); vmax = Math.max(vmax, d[1]); });
    const pad = (vmax - vmin) * 0.05;
    const ymin = vmin - pad, ymax = vmax + pad;
    const ticks = panelTicks[i];
    const dec = tickDecimals[i];
    const gl = 2 * i, gr = 2 * i + 1;
    const last = i === panelNames.length - 1;

    grid.push({ left: LX, top, width: LW, height: PH, containLabel: false, outerBoundsMode: "none" });
    grid.push({ left: RX, top, width: RW, height: PH, containLabel: false, outerBoundsMode: "none" });

    const tickLine = { color: DARK, width: 1.6 };
    xAxis.push({
      gridIndex: gl, type: "value", min: xMin, max: xMax,
      axisLine: { show: false }, splitLine: { show: false },
      axisTick: { show: last, length: 7.7, customValues: yearTicks, lineStyle: tickLine },
      axisLabel: { show: last, customValues: yearTicks, formatter: (v: number) => String(v), color: TICKC, fontSize: 22, margin: 13, fontFamily: FONT },
    });
    xAxis.push({
      gridIndex: gr, type: "value", min: 0.4, max: 3.6,
      axisLine: { show: false }, splitLine: { show: false },
      axisTick: { show: last, length: 7.7, customValues: [1, 2, 3], lineStyle: tickLine },
      axisLabel: { show: last, customValues: [1, 2, 3], rotate: 90, formatter: (v: number) => decadeLabels[Math.round(v) - 1], color: TICKC, fontSize: 22, margin: 14, fontFamily: FONT },
    });
    const yA = (g: number) => ({
      gridIndex: g, type: "value", min: ymin, max: ymax,
      axisLine: { show: false }, splitLine: { show: false },
      axisTick: { show: true, length: 7.7, customValues: ticks, lineStyle: tickLine },
      axisLabel: { show: true, customValues: ticks, formatter: (v: number) => Number(v).toFixed(dec), color: TICKC, fontSize: 22, margin: 14, fontFamily: FONT },
    });
    yAxis.push(yA(gl));
    yAxis.push(yA(gr));

    // gridlines
    const step = ticks[1] - ticks[0];
    const hItems: number[][] = [];
    ticks.forEach((t) => { if (t >= ymin && t <= ymax) hItems.push([0, t, 1]); });
    for (let k = -3; k <= ticks.length + 3; k++) {
      const v = ticks[0] + (k - 0.5) * step;
      if (v > ymin && v < ymax) hItems.push([0, v, 0]);
    }
    const leftGridItems = hItems.concat(yearTicks.map((v) => [1, v, 1]), yearMinor.map((v) => [1, v, 0]));
    const rightGridItems = hItems.concat([1, 2, 3].map((v) => [1, v, 1]));
    const gridSeries = (g: number, items: number[][], xa: number) => ({
      type: "custom", xAxisIndex: g, yAxisIndex: g, z: 0, silent: true, data: items,
      renderItem: (params: any, api: any) => {
        const kind = api.value(0), v = api.value(1), major = api.value(2);
        const cs = params.coordSys;
        const lw = major ? 2 : 1.1;
        if (kind === 0) {
          const y = api.coord([xa, v])[1];
          return { type: "line", shape: { x1: cs.x, y1: y, x2: cs.x + cs.width, y2: y }, style: { stroke: GRIDC, lineWidth: lw } };
        }
        const x = api.coord([v, ymin])[0];
        return { type: "line", shape: { x1: x, y1: cs.y, x2: x, y2: cs.y + cs.height }, style: { stroke: GRIDC, lineWidth: lw } };
      },
    });
    series.push(gridSeries(gl, leftGridItems, xMin));
    series.push(gridSeries(gr, rightGridItems, 1));

    // reference lines
    const refLine = (g: number, xa: number, z: number) => ({
      type: "custom", xAxisIndex: g, yAxisIndex: g, z, silent: true, data: [[xa, refValues[i]]],
      renderItem: (params: any, api: any) => {
        const cs = params.coordSys;
        const y = api.coord([xa, refValues[i]])[1];
        return { type: "line", shape: { x1: cs.x, y1: y, x2: cs.x + cs.width, y2: y }, style: { stroke: "#000000", lineWidth: 2.1 } };
      },
    });
    series.push(refLine(gl, xMin, 3));
    series.push(refLine(gr, 1, 1));

    // left scatter
    series.push({
      type: "scatter", xAxisIndex: gl, yAxisIndex: gl, z: 2, silent: true,
      symbol: "circle", symbolSize: 10.5, data: flat,
      itemStyle: { color: "rgba(0,0,0,0)", borderColor: "#000000", borderWidth: 1.75 },
      emphasis: { disabled: true },
    });

    // decade stats
    const groups = [0, 1, 2].map((d) => flat.filter(([yr]) => yr >= 1990 + 10 * d && yr <= 1999 + 10 * d).map((x) => x[1]));
    const stats = (panelBoxes[i] as number[][]).map(([q1, med, q3], d) => {
      const iqr = q3 - q1;
      const lo = q1 - 1.5 * iqr, hi = q3 + 1.5 * iqr;
      const inside = groups[d].filter((v) => v >= lo && v <= hi);
      const outs = groups[d].filter((v) => v < lo || v > hi);
      return { q1, med, q3, wlo: Math.min(q1, ...inside), whi: Math.max(q3, ...inside), outs };
    });

    // violins
    const violins = panelViolins[i] as number[][][];
    series.push({
      type: "custom", xAxisIndex: gr, yAxisIndex: gr, z: 2, silent: true,
      data: stats.map((s, d) => [d + 1, s.med]),
      renderItem: (params: any, api: any) => {
        const d = params.dataIndex;
        const c = d + 1;
        const prof = violins[d];
        const leftSide = prof.map(([v, w]) => api.coord([c - w * 0.45, v]));
        const rightSide = prof.slice(1, -1).reverse().map(([v, w]) => api.coord([c + w * 0.45, v]));
        return {
          type: "polygon",
          shape: { points: leftSide.concat(rightSide), smooth: 0.25 },
          style: { fill: "#FFD700", stroke: DARK, lineWidth: 2.2, lineJoin: "round" },
        };
      },
    });

    // boxes
    series.push({
      type: "custom", xAxisIndex: gr, yAxisIndex: gr, z: 3, silent: true,
      data: stats.map((s, d) => [d + 1, s.med]),
      renderItem: (params: any, api: any) => {
        const s = stats[params.dataIndex];
        const c = params.dataIndex + 1;
        const xl = api.coord([c - 0.1, s.q1])[0];
        const xr = api.coord([c + 0.1, s.q1])[0];
        const xc = api.coord([c, s.q1])[0];
        const y1 = api.coord([c, s.q1])[1];
        const y3 = api.coord([c, s.q3])[1];
        const ym = api.coord([c, s.med])[1];
        const ylo = api.coord([c, s.wlo])[1];
        const yhi = api.coord([c, s.whi])[1];
        const st = { stroke: DARK, lineWidth: 2.1 };
        return {
          type: "group",
          children: [
            { type: "line", shape: { x1: xc, y1: y3, x2: xc, y2: yhi }, style: st },
            { type: "line", shape: { x1: xc, y1: y1, x2: xc, y2: ylo }, style: st },
            { type: "rect", shape: { x: xl, y: y3, width: xr - xl, height: y1 - y3 }, style: { fill: "#FFFFFF", stroke: DARK, lineWidth: 2.1 } },
            { type: "line", shape: { x1: xl, y1: ym, x2: xr, y2: ym }, style: { stroke: DARK, lineWidth: 4 } },
          ],
        };
      },
    });

    // outliers
    const outData: number[][] = [];
    stats.forEach((s, d) => s.outs.forEach((v) => outData.push([d + 1, v])));
    series.push({
      type: "scatter", xAxisIndex: gr, yAxisIndex: gr, z: 4, silent: true,
      symbol: "circle", symbolSize: 11.5, data: outData,
      itemStyle: { color: DARK, borderWidth: 0 },
      emphasis: { disabled: true },
    });

    // panel borders + strips
    [[LX, LW], [RX, RW]].forEach(([px, pw]) => {
      graphic.push({ type: "rect", z: 100, silent: true, shape: { x: px, y: top, width: pw, height: PH }, style: { fill: "none", stroke: DARK, lineWidth: 1.4 } });
      const sx = px + pw + 1.5;
      graphic.push({ type: "rect", z: 100, silent: true, shape: { x: sx, y: top, width: STRIP_W, height: PH }, style: { fill: "#D9D9D9", stroke: DARK, lineWidth: 1.4 } });
      graphic.push({
        type: "text", z: 101, silent: true, x: sx + STRIP_W / 2, y: top + PH / 2, rotation: -Math.PI / 2,
        style: { text: name, fontSize: 22, fontFamily: FONT, fill: "#1A1A1A", align: "center", verticalAlign: "middle" },
      });
    });
  });

  const mid = TOP0 + (6 * PITCH + PH) / 2;
  graphic.push({ type: "text", z: 101, x: LX, y: 42, style: { text: "N. Atlantic | 2000s", fontSize: 35, fontFamily: FONT, fill: "#000000", align: "left", verticalAlign: "middle" } });
  graphic.push({ type: "text", z: 101, x: RX + 1, y: 42, style: { text: "Decadal offsets", fontSize: 35, fontFamily: FONT, fill: "#000000", align: "left", verticalAlign: "middle" } });
  graphic.push({ type: "text", z: 101, x: 43, y: mid, rotation: Math.PI / 2, style: { text: "offset", fontSize: 28, fontFamily: FONT, fill: "#000000", align: "center", verticalAlign: "middle" } });
  graphic.push({ type: "text", z: 101, x: 859, y: mid, rotation: Math.PI / 2, style: { text: "offset", fontSize: 28, fontFamily: FONT, fill: "#000000", align: "center", verticalAlign: "middle" } });

  return {
    animation: false,
    backgroundColor: "#FFFFFF",
    textStyle: { fontFamily: FONT },
    grid, xAxis, yAxis, series, graphic,
  };
}

export default function App() {
  const ref = useRef<HTMLDivElement>(null);
  useEffect(() => {
    const chart = echarts.init(ref.current as HTMLDivElement, null, { renderer: "svg" });
    chart.setOption(buildOption() as any);
    return () => chart.dispose();
  }, []);
  return <div ref={ref} style={{ position: "absolute", left: 0, top: 0, width: 1344, height: 1612 }} />;
}
